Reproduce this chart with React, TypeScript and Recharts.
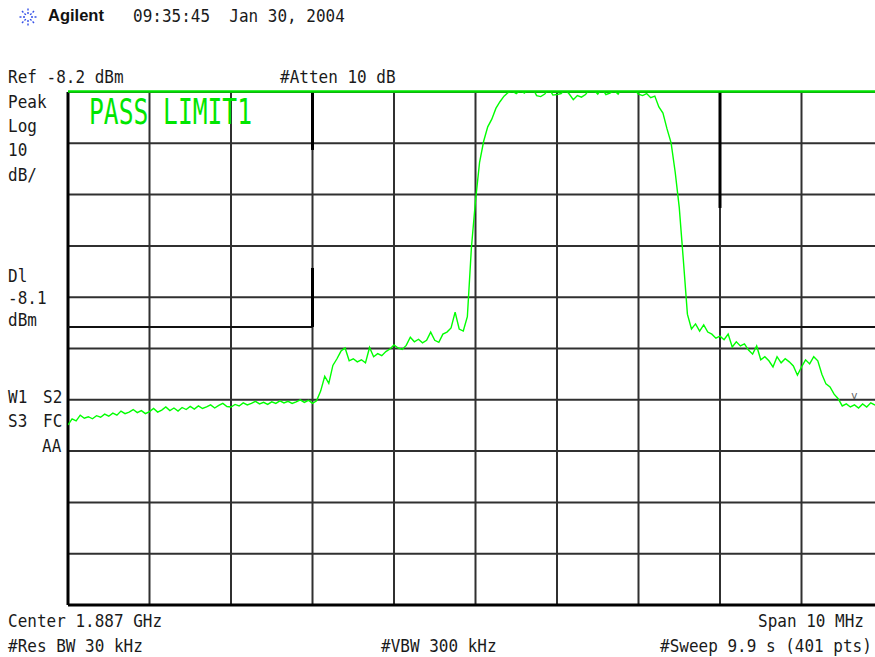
import { LineChart, Line, XAxis, YAxis, CartesianGrid, ReferenceLine } from 'recharts';

// sweep: center 1.887 GHz, span 10 MHz, trace read every other sweep point
const START_MHZ = 1882;
const STOP_MHZ = 1892;
const STEP_MHZ = 0.05;
const REF_DBM = -8.2;
const BOTTOM_DBM = -108.2;
const DISPLAY_LINE_DBM = -8.1;

const X_TICKS = [1882, 1883, 1884, 1885, 1886, 1887, 1888, 1889, 1890, 1891, 1892];
const Y_TICKS = [-108.2, -98.2, -88.2, -78.2, -68.2, -58.2, -48.2, -38.2, -28.2, -18.2, -8.2];

const TRACE_DBM = [
  -73.1, -71.9, -72.3, -71.2, -71.8, -71.5, -71.9, -71.3, -71.6, -71.0,
  -71.4, -70.8, -71.2, -70.4, -70.9, -70.6, -70.1, -70.7, -70.3, -70.9,
  -70.5, -69.9, -70.6, -70.2, -69.6, -70.3, -69.8, -70.4, -69.7, -70.1,
  -69.5, -70.0, -69.4, -69.9, -69.6, -69.2, -69.8, -69.3, -68.9, -69.5,
  -69.6, -69.1, -69.4, -68.8, -69.2, -68.9, -68.5, -69.0, -68.7, -69.1,
  -68.6, -68.9, -68.4, -68.8, -68.5, -68.9, -68.6, -68.2, -68.7, -68.3,
  -68.9, -68.4, -66.5, -63.6, -65.0, -61.5, -60.2, -58.7, -58.1, -60.6,
  -60.2, -60.8, -60.4, -61.0, -58.0, -59.8, -59.2, -59.6, -58.8, -58.3,
  -57.5, -58.1, -58.4, -57.6, -56.0, -56.9, -56.4, -57.1, -56.6, -55.0,
  -56.6, -57.0, -55.4, -55.0, -54.2, -51.1, -54.4, -54.8, -52.0, -38.5,
  -29.4, -21.9, -17.8, -15.0, -13.5, -11.4, -10.1, -9.0, -8.3, -8.0,
  -8.5, -7.9, -8.4, -7.6, -7.4, -8.9, -9.1, -8.6, -7.5, -8.8,
  -8.7, -8.5, -7.7, -8.6, -9.7, -8.9, -9.2, -8.7, -7.6, -7.8,
  -8.6, -7.5, -8.7, -8.4, -7.9, -8.6, -7.3, -7.6, -7.4, -7.8,
  -8.6, -8.9, -8.5, -9.3, -9.0, -11.1, -12.3, -15.4, -18.1, -23.8,
  -30.7, -40.9, -51.5, -54.4, -53.4, -54.8, -53.6, -55.0, -55.4, -56.2,
  -55.8, -56.5, -55.4, -57.9, -56.9, -57.7, -57.3, -58.5, -59.3, -57.7,
  -60.4, -59.8, -60.6, -61.8, -59.8, -61.0, -60.2, -60.8, -61.6, -63.4,
  -61.8, -60.4, -61.2, -59.8, -60.6, -63.2, -65.1, -65.7, -67.1, -68.0,
  -69.4, -69.0, -69.6, -69.2, -69.8, -69.0, -69.6, -68.8, -69.2, -68.9,
  -69.3,
];

// limit line pieces as drawn on screen (MHz, dBm)
const LIMIT_LEFT_F = [1882, 1885];
const LIMIT_LEFT_V = [-54.0, -54.0];
const LIMIT_LEFT_STEP_F = [1885, 1885];
const LIMIT_LEFT_STEP_V = [-54.0, -42.5];
const LIMIT_LEFT_TOP_F = [1885, 1885];
const LIMIT_LEFT_TOP_V = [-19.5, -8.2];
const LIMIT_RIGHT_TOP_F = [1890, 1890];
const LIMIT_RIGHT_TOP_V = [-30.8, -8.2];
const LIMIT_RIGHT_F = [1890, 1892];
const LIMIT_RIGHT_V = [-54.0, -54.0];

const trace = TRACE_DBM.map((v, i) => ({ f: START_MHZ + i * STEP_MHZ, v }));
const pts = (fs: number[], vs: number[]) => fs.map((f, i) => ({ f, v: vs[i] }));

const mono = '"DejaVu Sans Mono", monospace';

// instrument font is tall and narrow: 16px mono stretched vertically
function T({ x, y, s, color }: { x: number; y: number; s: string; color?: string }) {
  return (
    <g transform={`translate(${x},${y}) scale(1,1.15)`}>
      <text x={0} y={0} fontFamily={mono} fontSize={16} fill={color ?? '#1a1a1a'} xmlSpace="preserve" style={{ whiteSpace: 'pre' }}>
        {s}
      </text>
    </g>
  );
}

function Star() {
  const rays = [0, 45, 90, 135, 180, 225, 270, 315];
  return (
    <g stroke="#3550e8" strokeWidth={1.4} strokeDasharray="2 1.5">
      {rays.map((a) => {
        const r = (a * Math.PI) / 180;
        return <line key={a} x1={28 + Math.cos(r) * 3} y1={17 + Math.sin(r) * 3} x2={28 + Math.cos(r) * 10} y2={17 + Math.sin(r) * 10} />;
      })}
    </g>
  );
}

export default function App() {
  return (
    <div style={{ position: 'fixed', left: 0, top: 0, width: 875, height: 657, overflow: 'hidden', background: '#fff' }}>
      <LineChart width={890} height={657} margin={{ top: 92, right: 7, bottom: 52, left: 68 }}>
        <CartesianGrid stroke="#303030" strokeWidth={2} />
        <XAxis type="number" dataKey="f" domain={[START_MHZ, STOP_MHZ]} ticks={X_TICKS} hide allowDataOverflow />
        <YAxis type="number" domain={[BOTTOM_DBM, REF_DBM]} ticks={Y_TICKS} hide allowDataOverflow />
        <ReferenceLine x={START_MHZ} stroke="#000" strokeWidth={3} />
        <ReferenceLine y={BOTTOM_DBM} stroke="#000" strokeWidth={3} />
        <Line data={pts(LIMIT_LEFT_F, LIMIT_LEFT_V)} dataKey="v" stroke="#111" strokeWidth={2} dot={false} isAnimationActive={false} />
        <Line data={pts(LIMIT_LEFT_STEP_F, LIMIT_LEFT_STEP_V)} dataKey="v" stroke="#000" strokeWidth={3} dot={false} isAnimationActive={false} />
        <Line data={pts(LIMIT_LEFT_TOP_F, LIMIT_LEFT_TOP_V)} dataKey="v" stroke="#000" strokeWidth={3} dot={false} isAnimationActive={false} />
        <Line data={pts(LIMIT_RIGHT_TOP_F, LIMIT_RIGHT_TOP_V)} dataKey="v" stroke="#000" strokeWidth={3} dot={false} isAnimationActive={false} />
        <Line data={pts(LIMIT_RIGHT_F, LIMIT_RIGHT_V)} dataKey="v" stroke="#111" strokeWidth={2} dot={false} isAnimationActive={false} />
        <Line data={trace} dataKey="v" stroke="#00ff00" strokeWidth={1.4} dot={false} isAnimationActive={false} />
        <ReferenceLine y={DISPLAY_LINE_DBM} stroke="#00e000" strokeWidth={2.5} ifOverflow="visible" />
      </LineChart>
      <svg width={875} height={657} style={{ position: 'absolute', left: 0, top: 0, pointerEvents: 'none' }}>
        <Star />
        <text x={48} y={21} fontFamily='"Liberation Sans", Arial, sans-serif' fontWeight="bold" fontSize={16.5} fill="#111">Agilent</text>
        <T x={133} y={22} s="09:35:45  Jan 30, 2004" />
        <T x={8} y={83} s="Ref -8.2 dBm" />
        <T x={280} y={83} s="#Atten 10 dB" />
        <T x={8} y={108} s="Peak" />
        <T x={8} y={132} s="Log" />
        <T x={8} y={156} s="10" />
        <T x={8} y={181} s="dB/" />
        <T x={8} y={282} s="Dl" />
        <T x={8} y={304} s="-8.1" />
        <T x={8} y={326} s="dBm" />
        <T x={8} y={403} s="W1" />
        <T x={43} y={403} s="S2" />
        <T x={8} y={427} s="S3" />
        <T x={43} y={427} s="FC" />
        <T x={42} y={452} s="AA" />
        <text x={89} y={124} fontFamily={mono} fontSize={35} fill="#00e600" textLength={163} lengthAdjust="spacingAndGlyphs">PASS LIMIT1</text>
        <text x={851} y={399} fontFamily={mono} fontSize={11} fill="#666">v</text>
        <T x={8} y={627} s="Center 1.887 GHz" />
        <T x={758} y={627} s="Span 10 MHz" />
        <T x={8} y={652} s="#Res BW 30 kHz" />
        <T x={381} y={652} s="#VBW 300 kHz" />
        <T x={660} y={652} s="#Sweep 9.9 s (401 pts)" />
      </svg>
    </div>
  );
}
